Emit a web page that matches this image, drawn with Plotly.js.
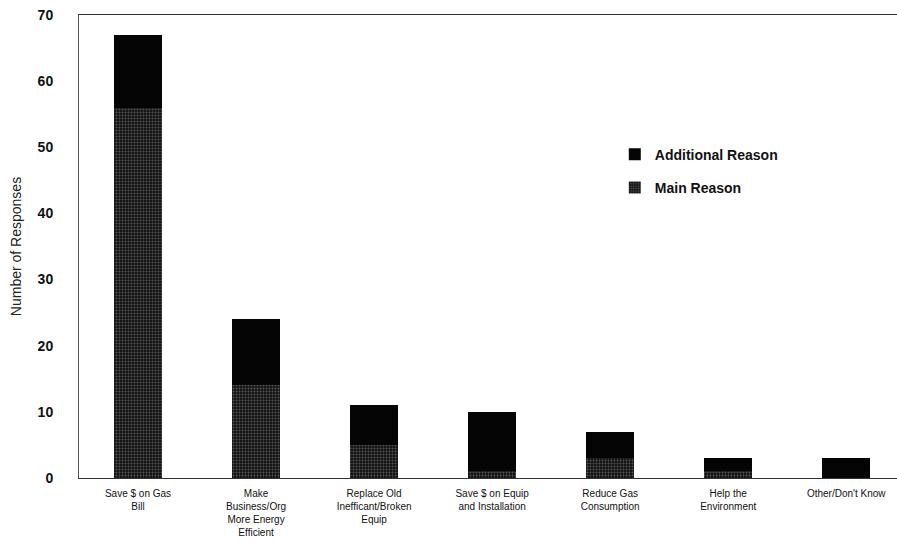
<!DOCTYPE html>
<html>
<head>
<meta charset="utf-8">
<script src="https://cdn.plot.ly/plotly-3.0.1.min.js"></script>
<style>html,body{margin:0;padding:0;background:#fff;}#chart{width:897px;height:544px;}</style>
</head>
<body>
<div id="chart"></div>
<script>
const categories = [
  "Save $ on Gas<br>Bill",
  "Make<br>Business/Org<br>More Energy<br>Efficient",
  "Replace Old<br>Inefficant/Broken<br>Equip",
  "Save $ on Equip<br>and Installation",
  "Reduce Gas<br>Consumption",
  "Help the<br>Environment",
  "Other/Don't Know"
];
const mainReason = [56, 14, 5, 1, 3, 1, 0];
const additionalReason = [11, 10, 6, 9, 4, 2, 3];
const yTicks = [0, 10, 20, 30, 40, 50, 60, 70];

const traces = [
  {
    type: 'bar', name: 'Main Reason', x: categories, y: mainReason,
    legendgroup: 'm', legendrank: 2,
    marker: {color: '#111', line: {width: 0},
      pattern: {shape: '.', bgcolor: '#111', fgcolor: '#9a9a9a', size: 3, solidity: 0.35, fillmode: 'overlay'}}
  },
  {
    type: 'bar', name: 'Additional Reason', x: categories, y: additionalReason,
    legendgroup: 'a', legendrank: 1,
    marker: {color: '#050505', line: {width: 0}}
  }
];

const layout = {
  width: 897, height: 544,
  margin: {l: 79, r: 0, t: 15, b: 66},
  paper_bgcolor: '#fff', plot_bgcolor: '#fff',
  barmode: 'stack',
  bargap: 0.59,
  showlegend: true,
  legend: {
    x: 0.655, y: 0.733, xanchor: 'left', yanchor: 'top',
    traceorder: 'grouped', tracegroupgap: 12,
    font: {family: 'Liberation Sans, Arial, sans-serif', size: 14, color: '#111', weight: 'bold'},
    itemwidth: 30, bgcolor: 'rgba(0,0,0,0)'
  },
  xaxis: {
    type: 'category', range: [-0.5, 6.43],
    showline: true, linecolor: '#333', linewidth: 1, mirror: true,
    showgrid: false, ticks: '', zeroline: false,
    ticklabelstandoff: 6,
    tickfont: {family: 'Liberation Sans, Arial, sans-serif', size: 10, color: '#111'},
    tickangle: 0
  },
  yaxis: {
    range: [0, 70], tickvals: yTicks, ticktext: yTicks.map(String),
    showline: true, linecolor: '#555', linewidth: 1,
    showgrid: false, zeroline: false, ticks: '',
    ticklabelstandoff: 22,
    tickfont: {family: 'Liberation Sans, Arial, sans-serif', size: 14, color: '#111', weight: 'bold'},
    title: {text: 'Number of Responses', standoff: 12,
      font: {family: 'Liberation Sans, Arial, sans-serif', size: 14, color: '#222'}}
  }
};

Plotly.newPlot('chart', traces, layout, {displayModeBar: false, staticPlot: true});
</script>
</body>
</html>
